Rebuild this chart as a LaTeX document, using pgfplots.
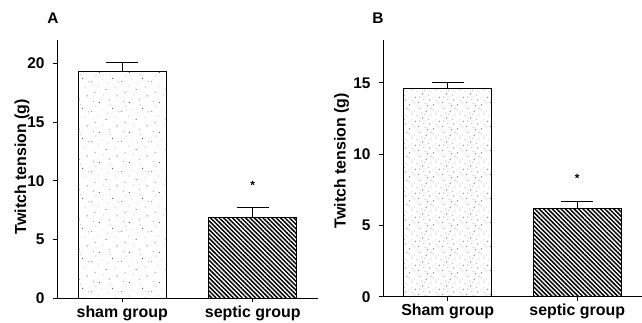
\documentclass[border=0pt]{standalone}
\usepackage{fontspec}
\setmainfont{Liberation Sans}
\usepackage{pgfplots}
\pgfplotsset{compat=1.18}
\usetikzlibrary{patterns,patterns.meta}

\newcommand{\dt}[2]{\pgfpathrectangle{\pgfpoint{#1bp}{#2bp}}{\pgfpoint{0.9bp}{0.9bp}}}
% sparse stipple (panel A)
\pgfdeclarepatterninherentlycolored{stippleA}{\pgfpointorigin}{\pgfpoint{30bp}{30bp}}{\pgfpoint{30bp}{30bp}}{%
  \pgfsetfillcolor{black!60}%
  \dt{1.3}{2.1}\dt{9.2}{11.4}\dt{22.7}{5.3}\dt{16.1}{24.8}\dt{27.4}{18.2}\dt{4.8}{21.9}%
  \pgfusepath{fill}%
  \pgfsetfillcolor{black!30}%
  \dt{5.6}{7.7}\dt{11.8}{3.9}\dt{3.1}{12.5}\dt{19.4}{14.6}\dt{25.3}{27.1}\dt{13.7}{19.3}%
  \dt{8.2}{28.4}\dt{20.6}{9.1}\dt{28.8}{1.7}\dt{17.3}{0.6}%
  \pgfusepath{fill}%
}
% denser stipple (panel B)
\pgfdeclarepatterninherentlycolored{stippleB}{\pgfpointorigin}{\pgfpoint{24bp}{24bp}}{\pgfpoint{24bp}{24bp}}{%
  \pgfsetfillcolor{black!65}%
  \dt{1.1}{1.7}\dt{7.4}{9.6}\dt{10.2}{4.3}\dt{18.3}{20.1}\dt{14.6}{13.2}\dt{21.9}{6.8}%
  \dt{3.7}{17.4}\dt{12.1}{22.6}\dt{19.8}{0.9}%
  \pgfusepath{fill}%
  \pgfsetfillcolor{black!30}%
  \dt{4.5}{5.9}\dt{2.6}{10.8}\dt{9.1}{0.6}\dt{6.0}{2.8}\dt{15.9}{7.4}\dt{22.4}{15.3}%
  \dt{17.2}{3.1}\dt{8.8}{15.7}\dt{0.4}{21.5}\dt{13.3}{18.9}\dt{20.7}{11.6}\dt{6.6}{20.3}%
  \dt{11.4}{10.1}\dt{23.0}{22.8}\dt{16.5}{16.9}%
  \pgfusepath{fill}%
}

\newcommand{\tl}{\fontsize{15.5}{18}\selectfont\bfseries}
\newcommand{\xl}{\fontsize{16}{19}\selectfont\bfseries}

\pgfplotsset{
  panel/.style={
    scale only axis,
    anchor=south west,
    axis x line=bottom,
    axis y line=left,
    axis line style={-, line width=0.8pt},
    tick align=outside,
    major tick length=4bp,
    tick style={line width=0.8pt, black},
    xmin=-0.5, xmax=1.5, ymin=0,
    xtick={0,1},
    yticklabel={\tl\pgfmathprintnumber[assume math mode=true]{\tick}},
    yticklabel style={xshift=-5bp},
    ylabel={\xl Twitch tension (g)},
    ylabel style={anchor=center},
    bar width=88bp,
    error bars/y dir=plus,
    error bars/y explicit,
    error bars/error mark=|,
    error bars/error bar style={line width=0.8pt, black},
    error bars/error mark options={line width=0.8pt, black, mark size=16bp},
  }
}

\begin{document}
\begin{tikzpicture}
\useasboundingbox (0,0) rectangle (642bp,323bp);

\begin{axis}[panel,
  at={(57bp,24.7bp)}, width=261bp, height=258.3bp,
  ymax=22, ytick={0,5,10,15,20},
  xticklabels={\xl sham group, \xl septic group},
  ylabel style={at={(axis description cs:-0.134,0.51)}},
]
\addplot[ybar, bar shift=0pt, draw=black, line width=0.8pt, pattern=stippleA]
  coordinates {(0,19.34) +- (0,0.75)};
\addplot[ybar, bar shift=0pt, draw=black, line width=0.8pt,
  pattern={Lines[angle=-45,distance=3.1bp,line width=1.5bp]}, pattern color=black]
  coordinates {(1,6.92) +- (0,0.82)};
\node[font=\fontsize{12}{14}\selectfont\bfseries] at (axis cs:1,9.6) {*};
\end{axis}

\begin{axis}[panel,
  at={(383bp,26.3bp)}, width=259bp, height=256.7bp,
  ymax=18, ytick={0,5,10,15},
  xticklabels={\xl Sham group, \xl septic group},
  ylabel style={at={(axis description cs:-0.16,0.53)}},
]
\addplot[ybar, bar shift=0pt, draw=black, line width=0.8pt, pattern=stippleB]
  coordinates {(0,14.61) +- (0,0.39)};
\addplot[ybar, bar shift=0pt, draw=black, line width=0.8pt,
  pattern={Lines[angle=-45,distance=3.1bp,line width=1.5bp]}, pattern color=black]
  coordinates {(1,6.17) +- (0,0.51)};
\node[font=\fontsize{12}{14}\selectfont\bfseries] at (axis cs:1,8.3) {*};
\end{axis}

\node[font=\fontsize{15.5}{18}\selectfont\bfseries] at (53bp,304.5bp) {A};
\node[font=\fontsize{15.5}{18}\selectfont\bfseries] at (378bp,305bp) {B};
\end{tikzpicture}
\end{document}
